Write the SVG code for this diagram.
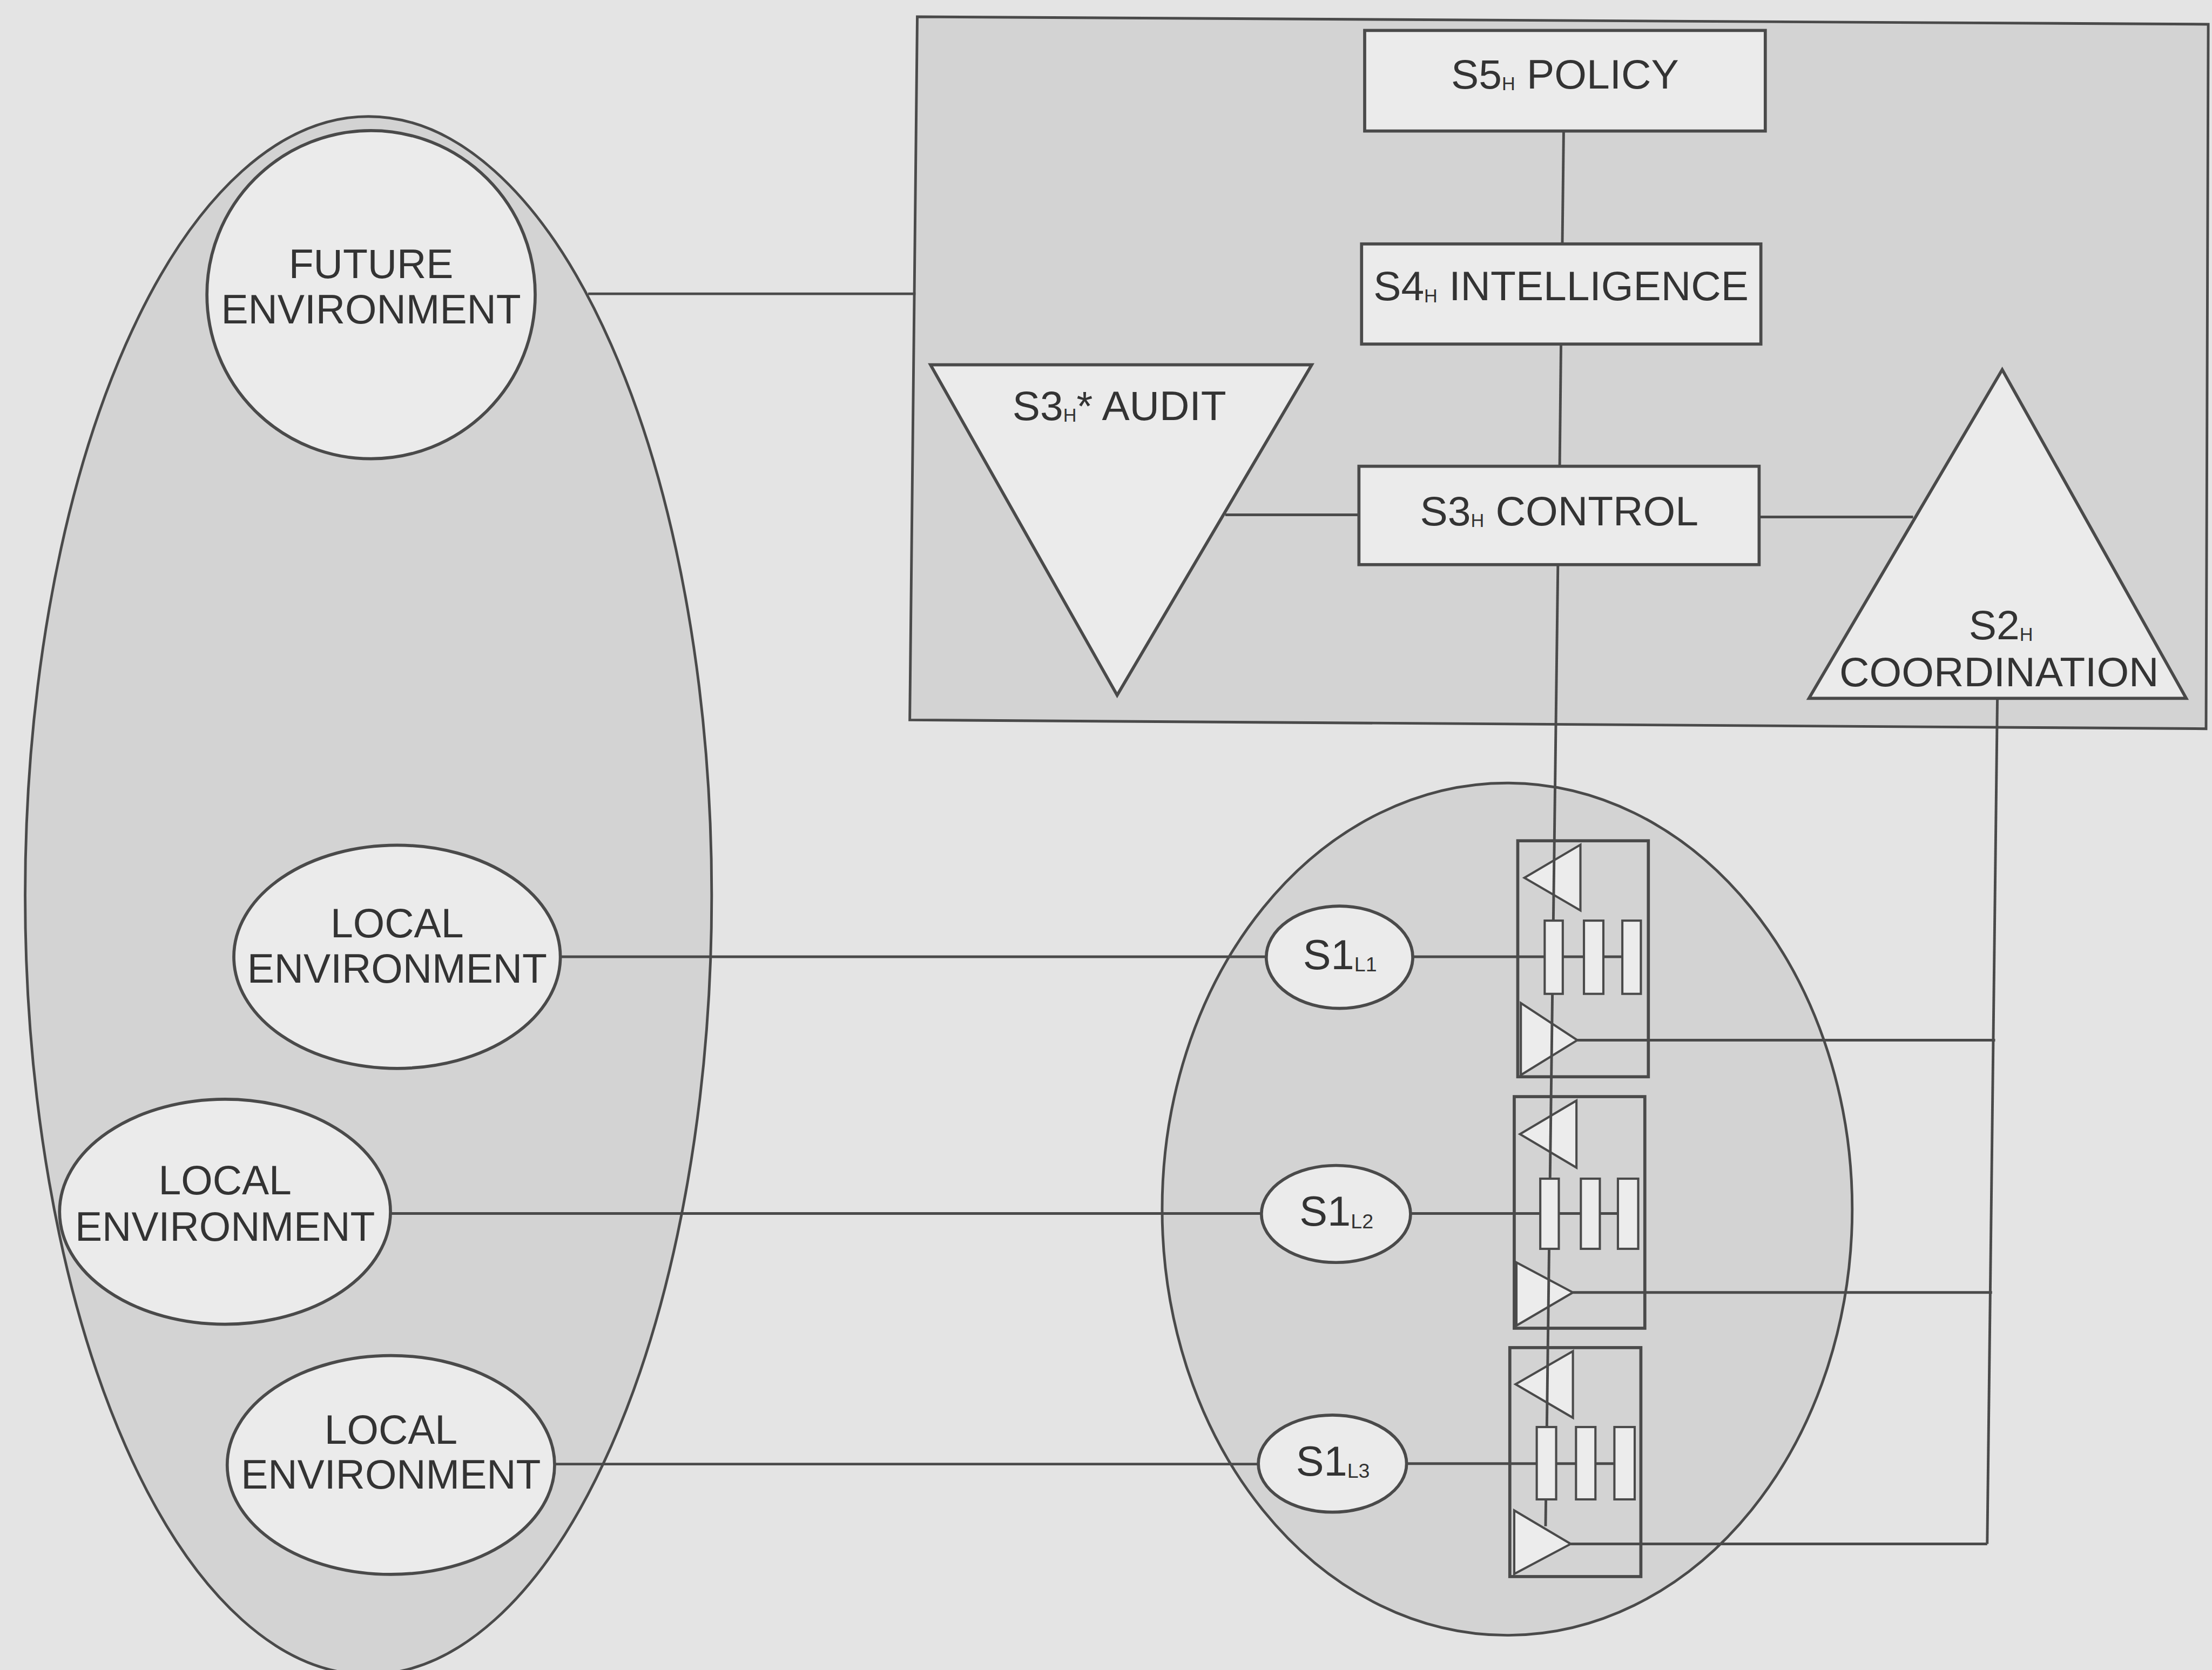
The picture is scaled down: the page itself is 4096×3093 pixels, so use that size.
<svg xmlns="http://www.w3.org/2000/svg" width="4096" height="3093" viewBox="0 0 4096 3093">
<style>
.ln{stroke:#4a4a4a;stroke-width:6;fill:none}
.cont{stroke:#4a4a4a;stroke-width:6;fill:#d3d3d3}
.node{stroke:#4a4a4a;stroke-width:7;fill:#ebebeb}
.frame{stroke:#4a4a4a;stroke-width:7;fill:none}
.tri{stroke:#4a4a4a;stroke-width:5;fill:#ececec}
.small{stroke:#4a4a4a;stroke-width:5;fill:#ececec}
text{font-family:"Liberation Sans",Arial,sans-serif;fill:#333;text-anchor:middle}
.env{font-size:92px}
.sys{font-size:94px}
.s1{font-size:95px}
.sub{font-size:42px}
.sub1{font-size:46px}
</style>
<rect x="0" y="0" width="4096" height="3093" fill="#e4e4e4"/>
<g transform="scale(0.817)">
  <!-- containers -->
  <g id="environment">
    <ellipse cx="835" cy="2030" rx="778" ry="1766" class="cont"/>
  </g>
  <g id="metasystem">
    <polygon points="2079,38 5005,55 5000,1652 2062,1632" class="cont" fill="#d6d6d6"/>
  </g>
  <g id="operations">
    <ellipse cx="3416" cy="2741" rx="782" ry="966" class="cont"/>
  </g>

  <!-- S1 unit frames and amplifier triangles -->
  <g id="s1-unit-1">
    <rect x="3440" y="1906" width="296" height="535" class="frame"/>
    <polygon points="3582,1915 3582,2064 3455,1990" class="tri"/>
    <polygon points="3447,2274 3447,2437 3575,2358" class="tri"/>
  </g>
  <g id="s1-unit-2">
    <rect x="3432" y="2486" width="296" height="525" class="frame"/>
    <polygon points="3573,2495 3573,2647 3445,2571" class="tri"/>
    <polygon points="3437,2862 3437,3005 3565,2930" class="tri"/>
  </g>
  <g id="s1-unit-3">
    <rect x="3422" y="3055" width="297" height="519" class="frame"/>
    <polygon points="3565,3063 3565,3214 3435,3138" class="tri"/>
    <polygon points="3432,3424 3432,3568 3560,3500" class="tri"/>
  </g>

  <!-- connectors -->
  <g id="connectors">
    <line x1="1333" y1="666" x2="2075" y2="666" class="ln"/>
    <line x1="3544" y1="297" x2="3541" y2="553" class="ln"/>
    <line x1="3538" y1="780" x2="3535" y2="1057" class="ln"/>
    <line x1="2777" y1="1167" x2="3080" y2="1167" class="ln"/>
    <line x1="3987" y1="1172" x2="4336" y2="1172" class="ln"/>
    <line x1="3531" y1="1280" x2="3503" y2="3460" class="ln"/>
    <line x1="4527" y1="1583" x2="4504" y2="3500" class="ln"/>
    <line x1="3575" y1="2358" x2="4522" y2="2358" class="ln"/>
    <line x1="3565" y1="2930" x2="4515" y2="2930" class="ln"/>
    <line x1="3560" y1="3500" x2="4504" y2="3500" class="ln"/>
    <line x1="1270" y1="2169" x2="2870" y2="2169" class="ln"/>
    <line x1="885" y1="2751" x2="2859" y2="2751" class="ln"/>
    <line x1="1258" y1="3319" x2="2853" y2="3319" class="ln"/>
    <line x1="3202" y1="2169" x2="3719" y2="2169" class="ln"/>
    <line x1="3197" y1="2751" x2="3713" y2="2751" class="ln"/>
    <line x1="3188" y1="3318" x2="3705" y2="3318" class="ln"/>
  </g>

  <!-- S1 sub-rectangles -->
  <g id="s1-unit-1-parts">
    <rect x="3501" y="2087" width="41" height="166" class="small"/>
    <rect x="3590" y="2087" width="44" height="166" class="small"/>
    <rect x="3677" y="2087" width="42" height="166" class="small"/>
  </g>
  <g id="s1-unit-2-parts">
    <rect x="3491" y="2672" width="42" height="159" class="small"/>
    <rect x="3583" y="2672" width="43" height="159" class="small"/>
    <rect x="3667" y="2672" width="46" height="159" class="small"/>
  </g>
  <g id="s1-unit-3-parts">
    <rect x="3483" y="3235" width="44" height="164" class="small"/>
    <rect x="3572" y="3235" width="44" height="164" class="small"/>
    <rect x="3659" y="3235" width="46" height="164" class="small"/>
  </g>

  <!-- environment nodes -->
  <g id="future-environment">
    <circle cx="841" cy="668" r="372" class="node"/>
    <text x="841" y="630" class="env">FUTURE</text>
    <text x="841" y="733" class="env">ENVIRONMENT</text>
  </g>
  <g id="local-environment-1">
    <ellipse cx="900" cy="2169" rx="370" ry="253" class="node"/>
    <text x="900" y="2125" class="env">LOCAL</text>
    <text x="900" y="2228" class="env">ENVIRONMENT</text>
  </g>
  <g id="local-environment-2">
    <ellipse cx="510" cy="2747" rx="375" ry="255" class="node"/>
    <text x="510" y="2708" class="env">LOCAL</text>
    <text x="510" y="2813" class="env">ENVIRONMENT</text>
  </g>
  <g id="local-environment-3">
    <ellipse cx="886" cy="3321" rx="371" ry="248" class="node"/>
    <text x="886" y="3273" class="env">LOCAL</text>
    <text x="886" y="3374" class="env">ENVIRONMENT</text>
  </g>

  <!-- metasystem nodes -->
  <g id="s5-policy">
    <rect x="3093" y="69" width="908" height="228" class="node"/>
    <text x="3547" y="201" class="sys">S5<tspan class="sub" dy="4">H</tspan><tspan dy="-4"> POLICY</tspan></text>
  </g>
  <g id="s4-intelligence">
    <rect x="3086" y="553" width="905" height="227" class="node"/>
    <text x="3538" y="681" class="sys">S4<tspan class="sub" dy="4">H</tspan><tspan dy="-4"> INTELLIGENCE</tspan></text>
  </g>
  <g id="s3-control">
    <rect x="3080" y="1057" width="907" height="223" class="node"/>
    <text x="3534" y="1191" class="sys">S3<tspan class="sub" dy="4">H</tspan><tspan dy="-4"> CONTROL</tspan></text>
  </g>
  <g id="s3-audit">
    <polygon points="2109,827 2973,827 2532,1576" class="node"/>
    <text x="2537" y="952" class="sys">S3<tspan class="sub" dy="4">H</tspan><tspan dy="-4">* AUDIT</tspan></text>
  </g>
  <g id="s2-coordination">
    <polygon points="4538,838 4955,1583 4100,1583" class="node"/>
    <text x="4535" y="1449" class="sys">S2<tspan class="sub" dy="4">H</tspan></text>
    <text x="4531" y="1556" class="sys">COORDINATION</text>
  </g>

  <!-- S1 nodes -->
  <g id="s1-l1">
    <ellipse cx="3036" cy="2170" rx="166" ry="116" class="node"/>
    <text x="3037" y="2197" class="s1">S1<tspan class="sub1" dy="5">L1</tspan></text>
  </g>
  <g id="s1-l2">
    <ellipse cx="3028" cy="2752" rx="169" ry="110" class="node"/>
    <text x="3029" y="2779" class="s1">S1<tspan class="sub1" dy="5">L2</tspan></text>
  </g>
  <g id="s1-l3">
    <ellipse cx="3020" cy="3318" rx="168" ry="110" class="node"/>
    <text x="3021" y="3345" class="s1">S1<tspan class="sub1" dy="5">L3</tspan></text>
  </g>
</g>
</svg>
